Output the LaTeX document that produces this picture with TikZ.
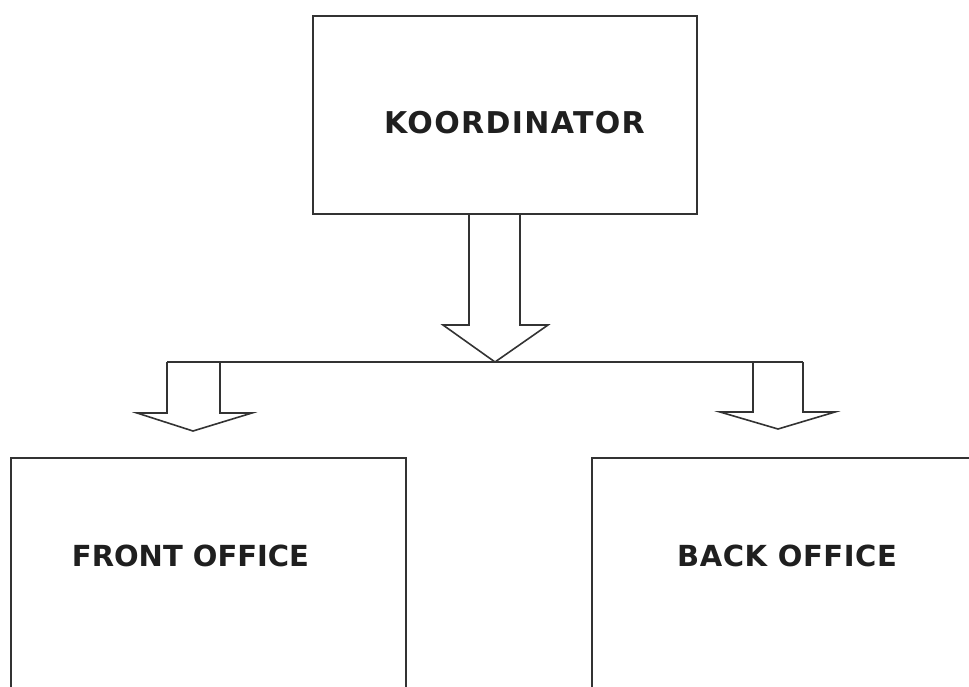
\documentclass[tikz,border=0pt]{standalone}
\usepackage{fontspec}
\setmainfont{DejaVu Sans}
\begin{document}
\begin{tikzpicture}[x=1pt,y=-1pt,
  line/.style={draw=black!80, line width=1.6pt, line join=miter},
  boxnode/.style={line, fill=white, inner sep=0pt, anchor=north west},
  txt/.style={inner sep=0pt, text=black!88}]
\useasboundingbox (0,0) rectangle (969,686);
\clip (0,0) rectangle (969,686);
% boxes
\node[boxnode, minimum width=384pt, minimum height=198pt] (koord) at (312,15) {};
\node[boxnode, minimum width=395pt, minimum height=280pt] (front) at (10,457) {};
\node[boxnode, minimum width=420pt, minimum height=280pt] (back) at (591,457) {};
% labels
\node[txt, font=\fontsize{30}{32}\selectfont\bfseries\addfontfeature{LetterSpace=4.5}] (tk) at (514.5,123) {KOORDINATOR};
\node[txt, font=\fontsize{29}{31}\selectfont\bfseries] (tf) at (190.5,555.5) {FRONT OFFICE};
\node[txt, font=\fontsize{29}{31}\selectfont\bfseries\addfontfeature{LetterSpace=2}] (tb) at (787,555.5) {BACK OFFICE};
% connector coordinates
\coordinate (hub) at (495,362);
\coordinate (lend) at (167,362);
\coordinate (rend) at (803,362);
% main block arrow from koordinator to the bar
\draw[line] (469,0 |- koord.south) -- (469,325) -- (443,325) -- (hub) -- (548,325) -- (520,325) -- (520,0 |- koord.south);
% horizontal bar
\draw[line] (lend) -- (rend);
% left block arrow
\draw[line] (lend) -- (167,413) -- (137,413) -- (193,431) -- (252,413) -- (220,413) -- (220,362);
% right block arrow
\draw[line] (753,362) -- (753,412) -- (720,412) -- (778,429) -- (835,412) -- (803,412) -- (rend);
\end{tikzpicture}
\end{document}
